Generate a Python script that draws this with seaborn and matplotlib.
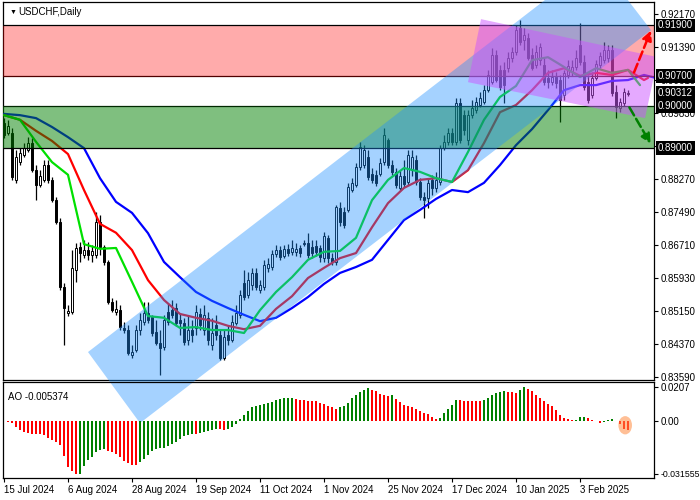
import numpy as np
import matplotlib
matplotlib.use("Agg")
import matplotlib.pyplot as plt
import seaborn as sns
from matplotlib.patches import Polygon, Ellipse, Rectangle
from matplotlib.transforms import blended_transform_factory

# ---------------- data ----------------
opens = [0.8959,0.8936,0.8936,0.8825,0.8867,0.8884,0.8896,0.8912,0.8848,0.8813,
         0.8825,0.8860,0.8825,0.8777,0.8725,0.8572,0.8510,0.8513,0.8612,0.8666,
         0.8647,0.8659,0.8647,0.8647,0.8725,0.8666,0.8631,0.8536,0.8513,0.8517,
         0.8475,0.8470,0.8411,0.8423,0.8470,0.8489,0.8510,0.8501,0.8465,0.8439,
         0.8430,0.8513,0.8517,0.8522,0.8494,0.8487,0.8446,0.8470,0.8475,0.8508,
         0.8470,0.8499,0.8435,0.8482,0.8458,0.8404,0.8458,0.8446,0.8487,0.8506,
         0.8581,0.8553,0.8576,0.8605,0.8565,0.8572,0.8617,0.8619,0.8650,0.8659,
         0.8645,0.8662,0.8655,0.8655,0.8664,0.8673,0.8676,0.8666,0.8669,0.8664,
         0.8640,0.8688,0.8640,0.8631,0.8759,0.8749,0.8754,0.8801,0.8813,0.8855,
         0.8860,0.8879,0.8839,0.8837,0.8839,0.8867,0.8919,0.8860,0.8844,0.8806,
         0.8834,0.8820,0.8848,0.8872,0.8820,0.8785,0.8782,0.8825,0.8806,0.8820,
         0.8900,0.8915,0.8936,0.8915,0.9007,0.8978,0.8919,0.8978,0.8990,0.9002,
         0.9009,0.9037,0.9056,0.9120,0.9085,0.9085,0.9089,0.9113,0.9127,0.9184,
         0.9156,0.9160,0.9120,0.9097,0.9108,0.9097,0.9066,0.9056,0.9068,0.9061,
         0.9026,0.9073,0.9080,0.9092,0.9144,0.9104,0.9056,0.9026,0.9066,0.9097,
         0.9108,0.9113,0.9132,0.9033,0.8995,0.9007,0.9028]
highs = [0.8971,0.8967,0.8948,0.8896,0.8900,0.8912,0.8926,0.8924,0.8860,0.8848,
         0.8872,0.8872,0.8832,0.8785,0.8735,0.8581,0.8529,0.8659,0.8676,0.8678,
         0.8683,0.8678,0.8671,0.8749,0.8742,0.8671,0.8636,0.8546,0.8541,0.8529,
         0.8489,0.8482,0.8435,0.8482,0.8510,0.8536,0.8536,0.8506,0.8494,0.8470,
         0.8506,0.8534,0.8541,0.8534,0.8510,0.8499,0.8506,0.8494,0.8529,0.8522,
         0.8529,0.8513,0.8499,0.8506,0.8470,0.8470,0.8482,0.8506,0.8529,0.8565,
         0.8612,0.8607,0.8617,0.8617,0.8588,0.8636,0.8640,0.8659,0.8671,0.8669,
         0.8671,0.8673,0.8683,0.8676,0.8671,0.8683,0.8699,0.8683,0.8683,0.8671,
         0.8702,0.8695,0.8652,0.8766,0.8773,0.8761,0.8818,0.8829,0.8865,0.8915,
         0.8908,0.8896,0.8853,0.8848,0.8877,0.8948,0.8924,0.8872,0.8853,0.8848,
         0.8872,0.8896,0.8896,0.8884,0.8829,0.8796,0.8829,0.8837,0.8844,0.8908,
         0.8931,0.8948,0.8948,0.9019,0.9019,0.8990,0.8990,0.9014,0.9021,0.9033,
         0.9049,0.9085,0.9137,0.9132,0.9097,0.9104,0.9127,0.9139,0.9191,0.9203,
         0.9184,0.9172,0.9137,0.9144,0.9149,0.9113,0.9085,0.9085,0.9080,0.9073,
         0.9085,0.9108,0.9108,0.9132,0.9196,0.9120,0.9073,0.9080,0.9108,0.9127,
         0.9151,0.9144,0.9144,0.9049,0.9019,0.9042,0.9037]
lows = [0.8924,0.8931,0.8825,0.8818,0.8860,0.8879,0.8891,0.8844,0.8777,0.8808,
        0.8820,0.8818,0.8773,0.8721,0.8565,0.8435,0.8503,0.8508,0.8584,0.8631,
        0.8640,0.8636,0.8631,0.8640,0.8647,0.8624,0.8532,0.8513,0.8506,0.8470,
        0.8463,0.8411,0.8404,0.8418,0.8458,0.8482,0.8487,0.8456,0.8435,0.8364,
        0.8423,0.8482,0.8499,0.8480,0.8458,0.8435,0.8435,0.8442,0.8458,0.8470,
        0.8458,0.8435,0.8423,0.8446,0.8399,0.8399,0.8435,0.8442,0.8482,0.8499,
        0.8541,0.8546,0.8565,0.8565,0.8557,0.8565,0.8607,0.8612,0.8643,0.8636,
        0.8640,0.8645,0.8647,0.8645,0.8643,0.8669,0.8640,0.8640,0.8645,0.8631,
        0.8631,0.8629,0.8624,0.8624,0.8716,0.8711,0.8749,0.8796,0.8808,0.8848,
        0.8853,0.8825,0.8818,0.8811,0.8835,0.8860,0.8853,0.8837,0.8806,0.8801,
        0.8808,0.8813,0.8834,0.8813,0.8777,0.8735,0.8759,0.8789,0.8796,0.8813,
        0.8896,0.8908,0.8908,0.8908,0.8912,0.8931,0.8908,0.8971,0.8983,0.8997,
        0.9004,0.9033,0.9052,0.9056,0.9037,0.9007,0.9080,0.9104,0.9120,0.9144,
        0.9132,0.9108,0.9085,0.9089,0.9097,0.9049,0.9042,0.9049,0.9042,0.8962,
        0.9014,0.9066,0.9071,0.9085,0.9097,0.9037,0.9007,0.9019,0.9061,0.9089,
        0.9101,0.9104,0.9023,0.8971,0.8985,0.9000,0.9023]
closes = [0.8931,0.8952,0.8832,0.8879,0.8889,0.8900,0.8912,0.8848,0.8813,0.8834,
          0.8860,0.8825,0.8777,0.8725,0.8572,0.8522,0.8515,0.8617,0.8664,0.8652,
          0.8659,0.8647,0.8657,0.8725,0.8666,0.8631,0.8536,0.8517,0.8520,0.8477,
          0.8470,0.8416,0.8418,0.8470,0.8494,0.8510,0.8494,0.8463,0.8439,0.8428,
          0.8494,0.8489,0.8506,0.8487,0.8487,0.8442,0.8470,0.8458,0.8513,0.8482,
          0.8506,0.8446,0.8463,0.8458,0.8404,0.8454,0.8446,0.8489,0.8510,0.8553,
          0.8548,0.8588,0.8605,0.8572,0.8576,0.8624,0.8626,0.8650,0.8659,0.8643,
          0.8662,0.8652,0.8664,0.8662,0.8652,0.8676,0.8647,0.8652,0.8655,0.8643,
          0.8692,0.8640,0.8631,0.8761,0.8725,0.8718,0.8808,0.8818,0.8855,0.8903,
          0.8896,0.8832,0.8825,0.8818,0.8865,0.8931,0.8860,0.8844,0.8813,0.8834,
          0.8815,0.8884,0.8879,0.8820,0.8785,0.8777,0.8818,0.8806,0.8825,0.8900,
          0.8915,0.8936,0.8915,0.9007,0.8919,0.8943,0.8978,0.8995,0.9009,0.9019,
          0.9037,0.9073,0.9120,0.9061,0.9045,0.9049,0.9113,0.9127,0.9179,0.9151,
          0.9168,0.9113,0.9089,0.9127,0.9139,0.9056,0.9056,0.9068,0.9054,0.9014,
          0.9078,0.9094,0.9092,0.9113,0.9104,0.9045,0.9014,0.9066,0.9099,0.9118,
          0.9132,0.9132,0.9030,0.8997,0.9009,0.9033,0.90312]

# Alligator lines (sampled every 4 bars, plus the shifted tail)
lips = [0.8978,0.8967,0.8915,0.8867,0.8837,0.8673,0.8662,0.8664,0.8584,0.8503,
        0.8499,0.8475,0.8477,0.8470,0.8470,0.8463,0.8517,0.8560,0.8595,0.8636,
        0.8655,0.8657,0.8688,0.8777,0.8825,0.8853,0.8844,0.8829,0.8820,0.8891,
        0.8967,0.9021,0.9047,0.9108,0.9115,0.9092,0.9068,0.9089,0.9078,0.9085,
        0.9049]
teeth = [0.8978,0.8967,0.8941,0.8917,0.8886,0.8801,0.8721,0.8700,0.8659,0.8588,
         0.8541,0.8508,0.8499,0.8492,0.8480,0.8472,0.8480,0.8520,0.8550,0.8593,
         0.8617,0.8640,0.8652,0.8713,0.8770,0.8806,0.8825,0.8829,0.8820,0.8848,
         0.8912,0.8985,0.9002,0.9037,0.9078,0.9089,0.9071,0.9078,0.9073,0.9085,
         0.9061,0.9066]
jaw = [0.8981,0.8978,0.8971,0.8950,0.8926,0.8900,0.8829,0.8773,0.8747,0.8699,
       0.8631,0.8595,0.8560,0.8539,0.8522,0.8506,0.8491,0.8499,0.8522,0.8548,
       0.8579,0.8605,0.8619,0.8636,0.8683,0.8730,0.8754,0.8780,0.8801,0.8796,
       0.8818,0.8860,0.8907,0.8945,0.8990,0.9037,0.9049,0.9049,0.9059,0.9061,
       0.9073,0.9066]
lips_idx = list(range(0, 157, 4)) + [159]
teeth_idx = list(range(0, 157, 4)) + [160, 161]
jaw_idx = list(range(0, 157, 4)) + [160, 163]

ao = [0.0,-0.0002,-0.0012,-0.0032,-0.0049,-0.0063,-0.0069,-0.0073,-0.0075,-0.0077,
      -0.0083,-0.0097,-0.0114,-0.0124,-0.0144,-0.0205,-0.0272,-0.0300,-0.031555,-0.0313,
      -0.0266,-0.0231,-0.0215,-0.0185,-0.0171,-0.0164,-0.0175,-0.0185,-0.0195,-0.0215,
      -0.0240,-0.0252,-0.0260,-0.0262,-0.0246,-0.0225,-0.0199,-0.0179,-0.0164,-0.0160,
      -0.0158,-0.0150,-0.0138,-0.0124,-0.0104,-0.0089,-0.0079,-0.0073,-0.0075,-0.0069,
      -0.0063,-0.0057,-0.0049,-0.0043,-0.0045,-0.0049,-0.0043,-0.0032,-0.0016,0.0012,
      0.0039,0.0065,0.0089,0.0093,0.0099,0.0104,0.0110,0.0114,0.0126,0.0136,
      0.0138,0.0140,0.0142,0.0134,0.0130,0.0126,0.0125,0.0124,0.0120,0.0110,
      0.0106,0.0093,0.0085,0.0073,0.0085,0.0093,0.0110,0.0140,0.0160,0.0177,
      0.0191,0.0201,0.0191,0.0181,0.0166,0.0160,0.0154,0.0156,0.0134,0.0114,
      0.0099,0.0093,0.0085,0.0073,0.0065,0.0053,0.0043,0.0028,0.0014,0.0022,
      0.0049,0.0073,0.0097,0.0130,0.0126,0.0124,0.0123,0.0122,0.0121,0.0120,
      0.0130,0.0140,0.0160,0.0171,0.0175,0.0181,0.0177,0.0175,0.0173,0.0191,
      0.0207,0.0195,0.0181,0.0160,0.0140,0.0120,0.0106,0.0093,0.0069,0.0039,
      0.0018,0.0012,0.0006,0.0010,0.0024,0.0028,0.0018,0.0008,0.0004,-0.0012,
      -0.0006,0.0008,0.0016,0.0004,-0.0018,-0.0043,-0.005374]

date_labels = ["15 Jul 2024", "6 Aug 2024", "28 Aug 2024", "19 Sep 2024", "11 Oct 2024",
               "1 Nov 2024", "25 Nov 2024", "17 Dec 2024", "10 Jan 2025", "3 Feb 2025"]
date_idx = [0, 16, 32, 48, 64, 80, 96, 112, 128, 144]
price_ticks = [0.92170, 0.91390, 0.90610, 0.89830, 0.89050, 0.88270, 0.87490,
               0.86710, 0.85930, 0.85150, 0.84370, 0.83590]
hidden_tick_labels = [0.89050]
level_boxes = [0.91900, 0.90700, 0.90312, 0.90000, 0.89000]
red_zone = (0.90700, 0.91900)
green_zone = (0.89000, 0.90000)
blue_channel = [(21.0, 0.8418), (34.0, 0.8250), (161.75, 0.9179), (148.25, 0.9345)]
purple_channel = [(119.25, 0.9205), (163.5, 0.9115), (160.25, 0.8971), (116.0, 0.9056)]
up_arrow = [(157.25, 0.9073), (162.0, 0.9184)]
down_arrow = [(156.0, 0.9002), (162.0, 0.8905)]

# ---------------- figure ----------------
sns.set_style("white")
plt.rcParams["font.family"] = ["Liberation Sans", "DejaVu Sans"]

W, H = 700, 500
fig = plt.figure(figsize=(7, 5), dpi=100, facecolor="white")
ax = fig.add_axes([3 / W, 1 - 380 / H, 651 / W, 378 / H])
ax2 = fig.add_axes([3 / W, 1 - 478 / H, 651 / W, 96 / H])
ax2.patch.set_alpha(0)

idx = np.arange(len(closes))
o = np.array(opens); c = np.array(closes); h = np.array(highs); l = np.array(lows)
bull = c >= o
ax.vlines(idx, l, h, color="black", lw=0.9, zorder=2)
ax.bar(idx, np.maximum(np.abs(c - o), 0.00008), bottom=np.minimum(o, c), width=0.62,
       color=np.where(bull, "white", "black"), edgecolor="black", lw=0.7, zorder=2.5)

sns.lineplot(x=jaw_idx, y=jaw, ax=ax, color="#0000FF", lw=1.6, zorder=3)
sns.lineplot(x=teeth_idx, y=teeth, ax=ax, color="#FF0000", lw=1.6, zorder=3)
sns.lineplot(x=lips_idx, y=lips, ax=ax, color="#00E000", lw=1.6, zorder=3)

ax.axhspan(*red_zone, color="#FF0000", alpha=0.33, lw=0, zorder=4)
ax.axhspan(*green_zone, color="#008000", alpha=0.5, lw=0, zorder=4)
ax.axhline(red_zone[1], color="black", lw=0.9, zorder=4.5)
ax.axhline(red_zone[0], color="#500000", lw=0.9, zorder=4.5)
ax.axhline(green_zone[1], color="#002800", lw=0.9, zorder=4.5)
ax.axhline(green_zone[0], color="black", lw=0.9, zorder=4.5)

clip_rect = Rectangle((3 / W, 22 / H), 651 / W, 476 / H, transform=fig.transFigure)
bp = Polygon(blue_channel, closed=True, facecolor="#1E90FF", alpha=0.4, lw=0,
             zorder=5, clip_on=False)
ax.add_patch(bp)
bp.set_clip_path(clip_rect)
pp = Polygon(purple_channel, closed=True, facecolor="#CC55FF", alpha=0.5, lw=0, zorder=5.5)
ax.add_patch(pp)

ax.annotate("", xy=up_arrow[1], xytext=up_arrow[0],
            arrowprops=dict(arrowstyle="-|>", color="#FF0000", lw=1.8, ls="--",
                            mutation_scale=14), zorder=6)
ax.annotate("", xy=down_arrow[1], xytext=down_arrow[0],
            arrowprops=dict(arrowstyle="-|>", color="#008000", lw=1.8, ls="--",
                            mutation_scale=14), zorder=6)

ax.set_xlim(-0.25, 162.5)
ax.set_ylim(0.83519, 0.92455)
ax.set_xlabel(""); ax.set_ylabel("")
ax.set_xticks([])
ax.yaxis.tick_right()
ax.set_yticks(price_ticks)
ax.set_yticklabels(["" if v in hidden_tick_labels else f"{v:.5f}" for v in price_ticks])
ax.tick_params(axis="y", right=True, left=False, length=3, width=0.8, pad=2,
               labelsize=7, colors="black")
for s in ax.spines.values():
    s.set_color("black"); s.set_linewidth(0.9)

tr = blended_transform_factory(ax.transAxes, ax.transData)
for v in level_boxes:
    ax.text(1.006, v, f"{v:.5f}", transform=tr, ha="left", va="center", fontsize=7,
            color="white", zorder=10, clip_on=False,
            bbox=dict(boxstyle="square,pad=0.18", fc="black", ec="none"))

ax.text(0.01, 0.983, "\u25bc", transform=ax.transAxes, fontsize=5, va="top", ha="left",
        color="black")
ax.text(0.024, 0.988, "USDCHF,Daily", transform=ax.transAxes, fontsize=7, va="top",
        ha="left", color="black")

# ---------------- AO panel ----------------
ao_arr = np.array(ao)
up = np.r_[False, ao_arr[1:] > ao_arr[:-1]]
ax2.bar(idx, ao_arr, width=0.72, color=np.where(up, "#008000", "#FF0000"), lw=0, zorder=2)
ax2.add_patch(Ellipse((155.3, -0.0023), 3.4, 0.011, facecolor="#FF8C40", alpha=0.55,
                      lw=0, zorder=3))
ax2.set_xlim(-0.25, 162.5)
ax2.set_ylim(-0.0340, 0.0237)
ax2.yaxis.tick_right()
ax2.set_yticks([0.0207, 0.0, -0.031555])
ax2.set_yticklabels(["0.0207", "0.00", "-0.031555"])
ax2.tick_params(axis="y", right=True, left=False, length=3, width=0.8, pad=1.5,
                labelsize=7, colors="black")
ax2.get_yticklabels()[2].set_fontsize(6.3)
ax2.set_xticks(date_idx)
ax2.set_xticklabels(date_labels, ha="left")
ax2.tick_params(axis="x", bottom=True, length=3, width=0.8, pad=2, labelsize=7,
                colors="black")
for s in ax2.spines.values():
    s.set_color("black"); s.set_linewidth(0.9)
ax2.text(0.007, 0.9, "AO -0.005374", transform=ax2.transAxes, fontsize=7, va="top",
         ha="left", color="black")

fig.savefig("out.png", dpi=100, facecolor="white")
